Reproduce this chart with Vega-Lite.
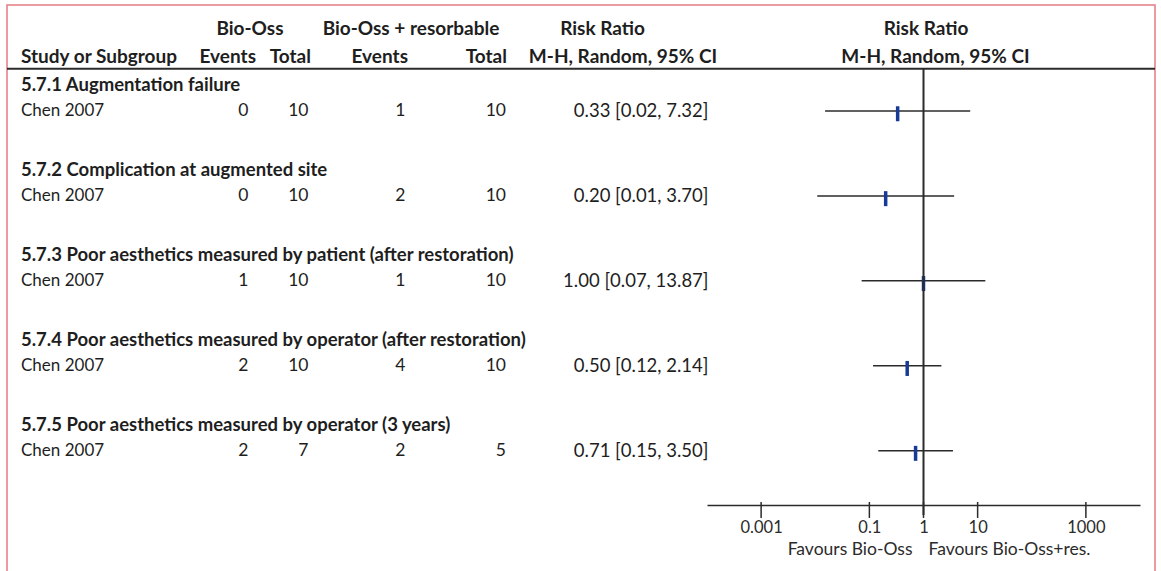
{
  "$schema": "https://vega.github.io/schema/vega-lite/v6.json",
  "width": 1148,
  "height": 566,
  "autosize": {"type": "none"},
  "padding": {"left": 7, "top": 5, "right": 6, "bottom": 0},
  "background": "white",
  "config": {
    "view": {"stroke": "#e37b82", "strokeWidth": 1.5, "strokeDash": [1714, 1148, 566]},
    "text": {"font": "Lato", "fontSize": 16, "color": "#1e1e1e"}
  },
  "datasets": {
    "groups": [
      {"key": "g1", "label": "5.7.1 Augmentation failure"},
      {"key": "g2", "label": "5.7.2 Complication at augmented site"},
      {"key": "g3", "label": "5.7.3 Poor aesthetics measured by patient (after restoration)"},
      {"key": "g4", "label": "5.7.4 Poor aesthetics measured by operator (after restoration)"},
      {"key": "g5", "label": "5.7.5 Poor aesthetics measured by operator (3 years)"}
    ],
    "studies": [
      {"key": "s1", "study": "Chen 2007", "e1": 0, "n1": 10, "e2": 1, "n2": 10, "ci": "0.33 [0.02, 7.32]", "rr": 0.333, "lo": 0.0152, "hi": 7.29},
      {"key": "s2", "study": "Chen 2007", "e1": 0, "n1": 10, "e2": 2, "n2": 10, "ci": "0.20 [0.01, 3.70]", "rr": 0.2, "lo": 0.0109, "hi": 3.68},
      {"key": "s3", "study": "Chen 2007", "e1": 1, "n1": 10, "e2": 1, "n2": 10, "ci": "1.00 [0.07, 13.87]", "rr": 1.0, "lo": 0.072, "hi": 13.87},
      {"key": "s4", "study": "Chen 2007", "e1": 2, "n1": 10, "e2": 4, "n2": 10, "ci": "0.50 [0.12, 2.14]", "rr": 0.5, "lo": 0.117, "hi": 2.14},
      {"key": "s5", "study": "Chen 2007", "e1": 2, "n1": 7, "e2": 2, "n2": 5, "ci": "0.71 [0.15, 3.50]", "rr": 0.714, "lo": 0.146, "hi": 3.5}
    ],
    "headers": [
      {"id": "bio", "key": "H1", "text": "Bio-Oss"},
      {"id": "bior", "key": "H1", "text": "Bio-Oss + resorbable"},
      {"id": "rr1", "key": "H1", "text": "Risk Ratio"},
      {"id": "rr2", "key": "H1", "text": "Risk Ratio"},
      {"id": "study", "key": "H2", "text": "Study or Subgroup"},
      {"id": "ev1", "key": "H2", "text": "Events"},
      {"id": "tot1", "key": "H2", "text": "Total"},
      {"id": "ev2", "key": "H2", "text": "Events"},
      {"id": "tot2", "key": "H2", "text": "Total"},
      {"id": "mh1", "key": "H2", "text": "M-H, Random, 95% CI"},
      {"id": "mh2", "key": "H2", "text": "M-H, Random, 95% CI"},
      {"id": "fav1", "key": "ax", "text": "Favours Bio-Oss"},
      {"id": "fav2", "key": "ax", "text": "Favours Bio-Oss+res."}
    ],
    "ticks": [{"v": 0.001}, {"v": 0.1}, {"v": 1}, {"v": 10}, {"v": 1000}]
  },
  "layer": [
    {
      "layer": [
        {
          "data": {"name": "groups"},
          "mark": {"type": "text", "align": "left", "fontWeight": "bold", "fontSize": 18.5},
          "encoding": {
            "x": {"datum": 0, "type": "quantitative", "axis": null,
                  "scale": {"type": "linear", "zero": false, "nice": false,
                            "domain": [0, 1, 2, 3, 4, 5, 6, 7, 8, 9, 10, 11, 12, 13],
                            "range": [14, 241.5, 243, 249, 301.5, 304, 398.5, 401, 404, 499, 500, 595.5, 616, 701.5]}},
            "y": {"field": "key", "type": "nominal", "axis": null,
                  "scale": {"type": "band", "paddingInner": 0, "paddingOuter": 1.046, "align": 0.1714,
                            "domain": ["H1", "H2", "g1", "s1", "b1", "g2", "s2", "b2", "g3", "s3", "b3", "g4", "s4", "b4", "g5", "s5", "b5", "ax"]}},
            "text": {"field": "label"}
          }
        },
        {
          "data": {"name": "studies"},
          "mark": {"type": "text", "align": "left", "fontSize": 17},
          "encoding": {
            "x": {"datum": 0, "type": "quantitative", "axis": null},
            "y": {"field": "key", "type": "nominal", "axis": null, "bandPosition": 0.404},
            "text": {"field": "study"}
          }
        },
        {
          "data": {"name": "studies"},
          "mark": {"type": "text", "align": "right", "fontSize": 17.5},
          "encoding": {
            "x": {"datum": 1, "type": "quantitative", "axis": null},
            "y": {"field": "key", "type": "nominal", "axis": null, "bandPosition": 0.404},
            "text": {"field": "e1"}
          }
        },
        {
          "data": {"name": "studies"},
          "mark": {"type": "text", "align": "right", "fontSize": 17.5},
          "encoding": {
            "x": {"datum": 4, "type": "quantitative", "axis": null},
            "y": {"field": "key", "type": "nominal", "axis": null, "bandPosition": 0.404},
            "text": {"field": "n1"}
          }
        },
        {
          "data": {"name": "studies"},
          "mark": {"type": "text", "align": "right", "fontSize": 17.5},
          "encoding": {
            "x": {"datum": 6, "type": "quantitative", "axis": null},
            "y": {"field": "key", "type": "nominal", "axis": null, "bandPosition": 0.404},
            "text": {"field": "e2"}
          }
        },
        {
          "data": {"name": "studies"},
          "mark": {"type": "text", "align": "right", "fontSize": 17.5},
          "encoding": {
            "x": {"datum": 9, "type": "quantitative", "axis": null},
            "y": {"field": "key", "type": "nominal", "axis": null, "bandPosition": 0.404},
            "text": {"field": "n2"}
          }
        },
        {
          "data": {"name": "studies"},
          "mark": {"type": "text", "align": "right", "fontSize": 18.5},
          "encoding": {
            "x": {"datum": 13, "type": "quantitative", "axis": null},
            "y": {"field": "key", "type": "nominal", "axis": null, "bandPosition": 0.404},
            "text": {"field": "ci"}
          }
        },
        {
          "data": {"name": "headers"},
          "transform": [{"filter": {"field": "id", "equal": "bio"}}],
          "mark": {"type": "text", "align": "center", "fontWeight": "bold", "fontSize": 19},
          "encoding": {
            "x": {"datum": 2, "type": "quantitative", "axis": null},
            "y": {"field": "key", "type": "nominal", "axis": null},
            "text": {"field": "text"}
          }
        },
        {
          "data": {"name": "headers"},
          "transform": [{"filter": {"field": "id", "equal": "bior"}}],
          "mark": {"type": "text", "align": "center", "fontWeight": "bold", "fontSize": 19},
          "encoding": {
            "x": {"datum": 8, "type": "quantitative", "axis": null},
            "y": {"field": "key", "type": "nominal", "axis": null},
            "text": {"field": "text"}
          }
        },
        {
          "data": {"name": "headers"},
          "transform": [{"filter": {"field": "id", "equal": "rr1"}}],
          "mark": {"type": "text", "align": "center", "fontWeight": "bold", "fontSize": 19},
          "encoding": {
            "x": {"datum": 11, "type": "quantitative", "axis": null},
            "y": {"field": "key", "type": "nominal", "axis": null},
            "text": {"field": "text"}
          }
        },
        {
          "data": {"name": "headers"},
          "transform": [{"filter": {"field": "id", "equal": "study"}}],
          "mark": {"type": "text", "align": "left", "fontWeight": "bold", "fontSize": 19},
          "encoding": {
            "x": {"datum": 0, "type": "quantitative", "axis": null},
            "y": {"field": "key", "type": "nominal", "axis": null},
            "text": {"field": "text"}
          }
        },
        {
          "data": {"name": "headers"},
          "transform": [{"filter": {"field": "id", "equal": "ev1"}}],
          "mark": {"type": "text", "align": "right", "fontWeight": "bold", "fontSize": 19},
          "encoding": {
            "x": {"datum": 3, "type": "quantitative", "axis": null},
            "y": {"field": "key", "type": "nominal", "axis": null},
            "text": {"field": "text"}
          }
        },
        {
          "data": {"name": "headers"},
          "transform": [{"filter": {"field": "id", "equal": "tot1"}}],
          "mark": {"type": "text", "align": "right", "fontWeight": "bold", "fontSize": 19},
          "encoding": {
            "x": {"datum": 5, "type": "quantitative", "axis": null},
            "y": {"field": "key", "type": "nominal", "axis": null},
            "text": {"field": "text"}
          }
        },
        {
          "data": {"name": "headers"},
          "transform": [{"filter": {"field": "id", "equal": "ev2"}}],
          "mark": {"type": "text", "align": "right", "fontWeight": "bold", "fontSize": 19},
          "encoding": {
            "x": {"datum": 7, "type": "quantitative", "axis": null},
            "y": {"field": "key", "type": "nominal", "axis": null},
            "text": {"field": "text"}
          }
        },
        {
          "data": {"name": "headers"},
          "transform": [{"filter": {"field": "id", "equal": "tot2"}}],
          "mark": {"type": "text", "align": "right", "fontWeight": "bold", "fontSize": 19},
          "encoding": {
            "x": {"datum": 10, "type": "quantitative", "axis": null},
            "y": {"field": "key", "type": "nominal", "axis": null},
            "text": {"field": "text"}
          }
        },
        {
          "data": {"name": "headers"},
          "transform": [{"filter": {"field": "id", "equal": "mh1"}}],
          "mark": {"type": "text", "align": "center", "fontWeight": "bold", "fontSize": 19},
          "encoding": {
            "x": {"datum": 12, "type": "quantitative", "axis": null},
            "y": {"field": "key", "type": "nominal", "axis": null},
            "text": {"field": "text"}
          }
        }
      ]
    },
    {
      "layer": [
        {
          "data": {"name": "studies"},
          "mark": {"type": "rule", "color": "#2b2b2b", "strokeWidth": 1.5},
          "encoding": {
            "x": {"field": "lo", "type": "quantitative",
                  "scale": {"type": "log", "domain": [0.0001, 10000], "range": [700, 1133], "nice": false},
                  "axis": {"orient": "bottom", "offset": -66, "values": [0.001, 0.1, 1, 10, 1000], "format": "~g",
                           "ticks": false, "grid": false, "domainColor": "#2b2b2b", "domainWidth": 1.5,
                           "labelFont": "Lato", "labelFontSize": 16.5, "labelColor": "#2b2b2b", "labelPadding": 14,
                           "labelFlush": false, "labelOverlap": false, "title": null}},
            "x2": {"field": "hi"},
            "y": {"field": "key", "type": "nominal", "axis": null, "bandPosition": 0.404}
          }
        },
        {
          "data": {"name": "studies"},
          "mark": {"type": "tick", "orient": "vertical", "color": "#173a96", "opacity": 1, "size": 15, "thickness": 3.5},
          "encoding": {
            "x": {"field": "rr", "type": "quantitative"},
            "y": {"field": "key", "type": "nominal", "axis": null, "bandPosition": 0.404}
          }
        },
        {
          "data": {"name": "ticks"},
          "mark": {"type": "tick", "orient": "vertical", "color": "#2b2b2b", "opacity": 1, "size": 16, "thickness": 1.5},
          "encoding": {
            "x": {"field": "v", "type": "quantitative"},
            "y": {"datum": "ax", "type": "nominal", "axis": null, "bandPosition": 0.39}
          }
        },
        {
          "data": {"name": "ticks"},
          "transform": [{"filter": "datum.v == 1"}],
          "mark": {"type": "rule", "color": "#2b2b2b", "strokeWidth": 2},
          "encoding": {
            "x": {"field": "v", "type": "quantitative"},
            "y": {"datum": "H2", "type": "nominal", "axis": null, "bandPosition": 0.913},
            "y2": {"datum": "ax", "bandPosition": 0.674}
          }
        },
        {
          "data": {"name": "ticks"},
          "transform": [{"filter": "datum.v == 1"}],
          "mark": {"type": "rule", "color": "#2b2b2b", "strokeWidth": 2},
          "encoding": {
            "y": {"datum": "H2", "type": "nominal", "axis": null, "bandPosition": 0.913}
          }
        },
        {
          "data": {"name": "headers"},
          "transform": [{"filter": {"field": "id", "equal": "rr2"}}],
          "mark": {"type": "text", "align": "center", "fontWeight": "bold", "fontSize": 19, "dx": 2.5},
          "encoding": {
            "x": {"datum": 1, "type": "quantitative"},
            "y": {"field": "key", "type": "nominal", "axis": null},
            "text": {"field": "text"}
          }
        },
        {
          "data": {"name": "headers"},
          "transform": [{"filter": {"field": "id", "equal": "mh2"}}],
          "mark": {"type": "text", "align": "center", "fontWeight": "bold", "fontSize": 19, "dx": 12},
          "encoding": {
            "x": {"datum": 1, "type": "quantitative"},
            "y": {"field": "key", "type": "nominal", "axis": null},
            "text": {"field": "text"}
          }
        },
        {
          "data": {"name": "headers"},
          "transform": [{"filter": {"field": "id", "equal": "fav1"}}],
          "mark": {"type": "text", "align": "right", "fontSize": 17.5, "dx": -11, "dy": 43, "color": "#2b2b2b"},
          "encoding": {
            "x": {"datum": 1, "type": "quantitative"},
            "y": {"field": "key", "type": "nominal", "axis": null, "bandPosition": 0.39},
            "text": {"field": "text"}
          }
        },
        {
          "data": {"name": "headers"},
          "transform": [{"filter": {"field": "id", "equal": "fav2"}}],
          "mark": {"type": "text", "align": "left", "fontSize": 17.5, "dx": 5, "dy": 43, "color": "#2b2b2b"},
          "encoding": {
            "x": {"datum": 1, "type": "quantitative"},
            "y": {"field": "key", "type": "nominal", "axis": null, "bandPosition": 0.39},
            "text": {"field": "text"}
          }
        }
      ]
    }
  ],
  "resolve": {"scale": {"x": "independent"}, "axis": {"x": "independent"}}
}
